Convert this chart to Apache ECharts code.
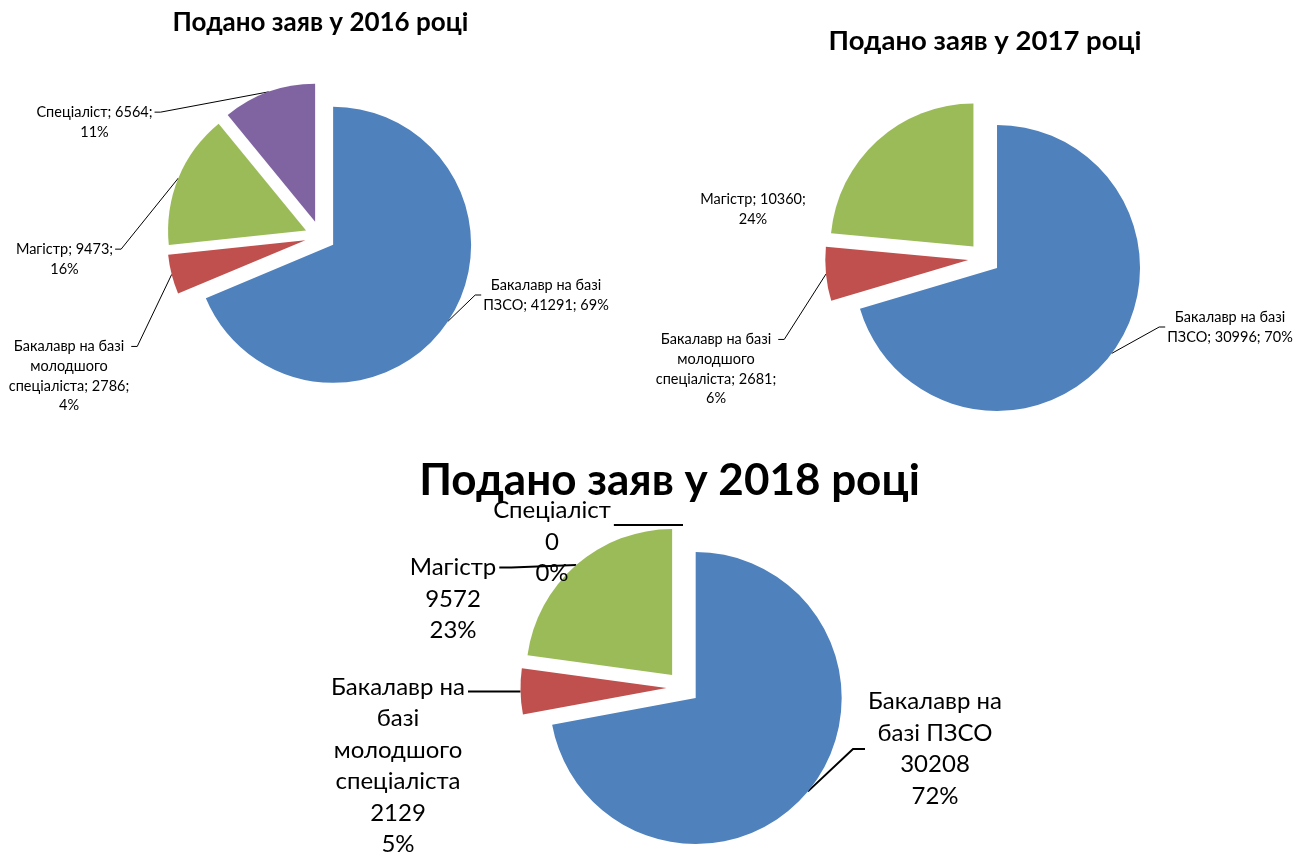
<!DOCTYPE html>
<html><head><meta charset="utf-8">
<script src="https://cdn.jsdelivr.net/npm/echarts@6/dist/echarts.min.js"></script>
<style>html,body{margin:0;padding:0;background:#fff}#c{width:1306px;height:856px}</style>
</head><body><div id="c"></div>
<script>
// ---- data ----
const titles = ['Подано заяв у 2016 році', 'Подано заяв у 2017 році', 'Подано заяв у 2018 році'];
const categories2016 = ['Бакалавр на базі ПЗСО', 'Бакалавр на базі молодшого спеціаліста', 'Магістр', 'Спеціаліст'];
const values2016 = [41291, 2786, 9473, 6564];
const categories2017 = ['Бакалавр на базі ПЗСО', 'Бакалавр на базі молодшого спеціаліста', 'Магістр'];
const values2017 = [30996, 2681, 10360];
const categories2018 = ['Бакалавр на базі ПЗСО', 'Бакалавр на базі молодшого спеціаліста', 'Магістр', 'Спеціаліст'];
const values2018 = [30208, 2129, 9572, 0];

// ---- styles / layout ----
const palette = ['#4F81BD', '#C0504D', '#9BBB59', '#8064A2'];
const FONT = 'Lato, "Noto Sans", sans-serif';
const charts = [
  { cats: categories2016, vals: values2016, title: titles[0], titlePos: [320.5, 23], titleSize: 26,
    center: [320.3, 236.3], r: 138, off: 15.4, sep: ';', breaks: [[3], [3, 4, 6], [2], [2]],
    labelPos: [[546, 295], [69, 376], [64.5, 259], [94.5, 122]], fontSize: 14.5, lineH: 19.7,
    lineW: 1, len2: 6, gap: 2, noLine: [] },
  { cats: categories2017, vals: values2017, title: titles[1], titlePos: [985, 41], titleSize: 27.5,
    center: [984.2, 258.4], r: 143, off: 16, sep: ';', breaks: [[3], [3, 4, 6], [2]],
    labelPos: [[1230, 327], [716, 369], [753, 209]], fontSize: 14.5, lineH: 19.7,
    lineW: 1, len2: 6, gap: 2, noLine: [2] },
  { cats: categories2018, vals: values2018, title: titles[2], titlePos: [669.5, 481], titleSize: 44,
    center: [683, 687.5], r: 146, off: 16.5, sep: '\n', breaks: [[2, 4, 5], [2, 3, 4, 5, 6], [1, 2], [1, 2]],
    labelPos: [[935, 749], [398, 766], [453, 599], [552, 542]], fontSize: 24, lineH: 31.5,
    lineW: 2, len2: 12, gap: 3, noLine: [] }
];

function makeLabel(name, value, pct, sep, breaks) {
  const text = sep === ';' ? name + '; ' + value + '; ' + pct + '%' : name + ' ' + value + ' ' + pct + '%';
  const tokens = text.split(' ');
  let out = '';
  tokens.forEach(function (t, i) {
    if (i > 0) out += breaks.indexOf(i) >= 0 ? '\n' : ' ';
    out += t;
  });
  return out;
}

// mid angle (clockwise from 12 o'clock) of each slice, used for the exploded offset
function midAngles(vals) {
  const total = vals.reduce(function (a, b) { return a + b; }, 0);
  let cum = 0;
  return vals.map(function (v) { const a = (cum + v / 2) / total * 2 * Math.PI; cum += v; return a; });
}

const series = [];
charts.forEach(function (c) {
  const mids = midAngles(c.vals);
  c.cats.forEach(function (_, k) {
    const sc = [c.center[0] + c.off * Math.sin(mids[k]), c.center[1] - c.off * Math.cos(mids[k])];
    series.push({
      type: 'pie', startAngle: 90, clockwise: true, radius: c.r, center: sc,
      percentPrecision: 0, avoidLabelOverlap: false, animation: false,
      emphasis: { disabled: true }, selectedMode: false,
      itemStyle: { borderWidth: 0 },
      label: {
        show: true, position: 'outside', color: '#000', fontFamily: FONT, fontSize: c.fontSize,
        lineHeight: c.lineH, align: 'center',
        formatter: function (p) { return makeLabel(p.name, p.value, p.percent, c.sep, c.breaks[p.dataIndex]); }
      },
      labelLine: { show: true, length: 10, length2: c.len2, smooth: false, lineStyle: { color: '#000', width: c.lineW } },
      labelLayout: function (p) {
        const i = p.dataIndex;
        const pos = c.labelPos[i];
        const w = p.labelRect.width, h = p.labelRect.height;
        const res = { x: pos[0], y: pos[1], align: 'center', verticalAlign: 'middle' };
        // leader line: from the arc at the slice's mid angle to the near edge of the label
        const ax = sc[0] + c.r * Math.sin(mids[i]);
        const ay = sc[1] - c.r * Math.cos(mids[i]);
        const firstMid = pos[1] - h / 2 + c.lineH / 2;
        const attachY = Math.min(pos[1], Math.max(firstMid, ay));
        const dir = ax < pos[0] ? -1 : 1;
        const ex = pos[0] + dir * (w / 2 + c.gap);
        res.labelLinePoints = [[ax, ay], [ex + dir * c.len2, attachY], [ex, attachY]];
        return res;
      },
      data: c.cats.map(function (n, i) {
        const d = { name: n, value: c.vals[i] };
        if (i === k) {
          d.itemStyle = { color: palette[i] };
          if (c.noLine.indexOf(i) >= 0) d.labelLine = { show: false };
        } else {
          d.itemStyle = { color: 'rgba(0,0,0,0)' };
          d.label = { show: false };
          d.labelLine = { show: false };
        }
        return d;
      })
    });
  });
});

const chart = echarts.init(document.getElementById('c'), null, { renderer: 'canvas' });
chart.setOption({
  animation: false,
  backgroundColor: '#fff',
  title: charts.map(function (c) {
    return {
      text: c.title, left: c.titlePos[0], top: c.titlePos[1] - c.titleSize * 0.6, textAlign: 'center', padding: 0,
      textStyle: { fontFamily: FONT, fontWeight: 'bold', fontSize: c.titleSize, color: '#000', lineHeight: c.titleSize * 1.2 }
    };
  }),
  series: series
});
</script>
</body></html>
